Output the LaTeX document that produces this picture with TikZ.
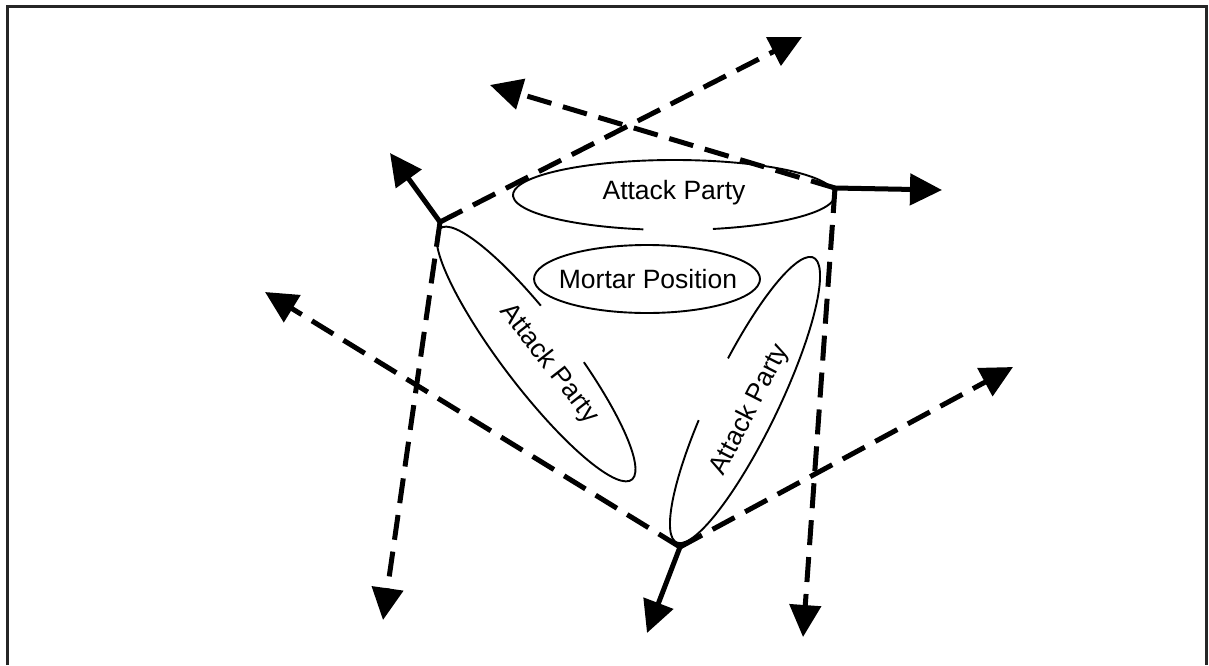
\documentclass[tikz,border=0pt]{standalone}
\usepackage{fontspec}
\setmainfont{Liberation Sans}
\usetikzlibrary{arrows.meta}
\begin{document}
\begin{tikzpicture}[x=1pt,y=1pt,
  route/.style={line width=5pt, dash pattern=on 25pt off 12pt,
    -{Triangle[length=32pt,width=31pt]}},
  move/.style={line width=5pt, -{Triangle[length=32pt,width=31pt]}},
  outline/.style={line width=1.9pt},
  lbl/.style={font=\fontsize{26.5}{30}\selectfont, inner sep=0pt}]
\useasboundingbox (0,-665) rectangle (1209,0);
% frame
\draw[line width=3pt, black!85] (7,-665) -- (7,-6) -- (1206,-6) -- (1206,-665);

% corners of the triangle and the ends of the movement arrows
\coordinate (A) at (440,-222);
\coordinate (B) at (835,-188);
\coordinate (C) at (680,-547);
\coordinate (tNE) at (802,-37);
\coordinate (tNW) at (490,-85);
\coordinate (tA) at (390,-153);
\coordinate (tW) at (265,-292);
\coordinate (tSW) at (383,-620);
\coordinate (tE) at (942,-190);
\coordinate (tS) at (803,-637);
\coordinate (tENE) at (1013,-367);
\coordinate (tC) at (647,-633);

% dashed routes
\draw[route] (A) -- (tNE);
\draw[route] (B) -- (tNW);
\draw[route] (A) -- (tSW);
\draw[route] (C) -- (tW);
\draw[route] (B) -- (tS);
\draw[route] (C) -- (tENE);
% solid moves
\draw[move] (A) -- (tA);
\draw[move] (B) -- (tE);
\draw[move] (C) -- (tC);

% top party
\draw[outline] (674,-195) ++(284:161 and 35)
  arc[start angle=284, end angle=619, x radius=161, y radius=35];
\node[lbl] (ap1) at (674,-193) {Attack Party};

% mortar
\draw[outline] (647,-279) ellipse[x radius=113, y radius=34];
\node[lbl] (mp) at (648,-279) {Mortar Position};

% left party
\begin{scope}[shift={(536,-354)}, rotate=-52.7]
\draw[outline] (103:158 and 34)
  arc[start angle=103, end angle=437, x radius=158, y radius=34];
\end{scope}
\node[lbl, rotate=-52] (ap2) at (549,-364) {Attack Party};

% right party
\begin{scope}[shift={(745,-400)}, rotate=64.3]
\draw[outline] (104:158 and 34)
  arc[start angle=104, end angle=439, x radius=158, y radius=34];
\end{scope}
\node[lbl, rotate=63] (ap3) at (750,-410) {Attack Party};
\end{tikzpicture}
\end{document}
